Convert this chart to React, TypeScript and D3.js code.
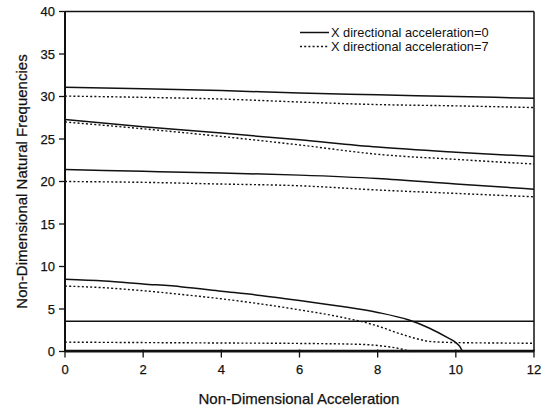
import React from "react";
import * as d3 from "d3";

// ---- data ----
const accel = [0, 2, 4, 6, 8, 10, 12];
const solidMode5 = [31.1, 30.9, 30.7, 30.4, 30.2, 30.0, 29.8];
const dottedMode5 = [30.05, 29.9, 29.7, 29.35, 29.05, 28.9, 28.7];
const solidMode4 = [27.3, 26.45, 25.7, 24.9, 24.05, 23.45, 22.95];
const dottedMode4 = [27.0, 26.2, 25.3, 24.3, 23.2, 22.6, 22.05];
const solidMode3 = [21.4, 21.2, 21.0, 20.75, 20.35, 19.7, 19.1];
const dottedMode3 = [20.0, 19.9, 19.7, 19.5, 19.0, 18.6, 18.2];

const solidMode2X = [0, 1, 2, 3, 4, 5, 6, 7, 8, 8.8, 9.3, 9.8, 10.0, 10.1, 10.17];
const solidMode2Y = [8.5, 8.3, 7.95, 7.6, 7.1, 6.6, 6.0, 5.35, 4.6, 3.7, 2.8, 1.6, 1.05, 0.6, 0];
const solidFlatX = [0, 12];
const solidFlatY = [3.55, 3.55];
const solidBottomX = [0, 12];
const solidBottomY = [0.12, 0.12];

const dottedMode2X = [0, 1, 2, 3, 4, 5, 6, 7, 8, 8.5, 9.0, 9.3, 9.6, 10, 11, 12];
const dottedMode2Y = [7.7, 7.5, 7.15, 6.7, 6.2, 5.6, 4.9, 4.1, 3.0, 2.2, 1.5, 1.2, 1.1, 1.05, 1.0, 0.97];
const dottedMode1X = [0, 2, 4, 6, 7.5, 8.2, 8.6, 8.85];
const dottedMode1Y = [1.1, 1.05, 1.0, 0.95, 0.85, 0.6, 0.3, 0];

const xTicks = [0, 2, 4, 6, 8, 10, 12];
const yTicks = [0, 5, 10, 15, 20, 25, 30, 35, 40];
const legendLabels = ["X directional acceleration=0", "X directional acceleration=7"];
const xTitle = "Non-Dimensional Acceleration";
const yTitle = "Non-Dimensional Natural Frequencies";

export default function App() {
  const W = 546, H = 408;
  const left = 65, right = 534, top = 11.5, bottom = 351.5;
  const x = d3.scaleLinear().domain([0, 12]).range([left, right]);
  const y = d3.scaleLinear().domain([0, 40]).range([bottom, top]);
  const line = (xs: number[], ys: number[]) =>
    d3.line<number>().x((_, i) => x(xs[i])).y((_, i) => y(ys[i])).curve(d3.curveMonotoneX)(ys) || "";

  const solid = [
    line(accel, solidMode5),
    line(accel, solidMode4),
    line(accel, solidMode3),
    line(solidMode2X, solidMode2Y),
    line(solidFlatX, solidFlatY),
    line(solidBottomX, solidBottomY),
  ];
  const dotted = [
    line(accel, dottedMode5),
    line(accel, dottedMode4),
    line(accel, dottedMode3),
    line(dottedMode2X, dottedMode2Y),
    line(dottedMode1X, dottedMode1Y),
  ];
  const font = "'Liberation Sans', Arial, sans-serif";
  const dash = "2 2.2";
  const ink = "#111";
  const textStroke = { stroke: ink, strokeWidth: 0.25 };

  return (
    <svg width={W} height={H} style={{ position: "absolute", left: 0, top: 0, background: "#fff" }} fontFamily={font}>
      <rect x={0} y={0} width={W} height={H} fill="#fff" />
      {solid.map((d, i) => (
        <path key={"s" + i} d={d} fill="none" stroke={ink} strokeWidth={1.5} />
      ))}
      {dotted.map((d, i) => (
        <path key={"d" + i} d={d} fill="none" stroke={ink} strokeWidth={1.4} strokeDasharray={dash} />
      ))}
      {/* frame */}
      <line x1={left} x2={right} y1={top} y2={top} stroke={ink} strokeWidth={1.5} />
      <line x1={right} x2={right} y1={top} y2={bottom} stroke={ink} strokeWidth={1.5} />
      <line x1={left} x2={left} y1={top} y2={bottom} stroke={ink} strokeWidth={2} />
      <line x1={left} x2={right} y1={bottom} y2={bottom} stroke={ink} strokeWidth={1.8} />
      {/* y ticks */}
      {yTicks.map((t) => (
        <g key={"yt" + t}>
          <line x1={left - 6} x2={left} y1={y(t)} y2={y(t)} stroke={ink} strokeWidth={1.3} />
          <text x={left - 10} y={y(t)} dy="0.35em" textAnchor="end" fontSize={13} fill={ink} {...textStroke}>{t}</text>
        </g>
      ))}
      {/* x ticks */}
      {xTicks.map((t) => (
        <g key={"xt" + t}>
          <line x1={x(t)} x2={x(t)} y1={bottom - 2} y2={bottom + 6} stroke={ink} strokeWidth={1.3} />
          <text x={x(t)} y={bottom + 22} textAnchor="middle" fontSize={13} fill={ink} {...textStroke}>{t}</text>
        </g>
      ))}
      <text x={299} y={408} dy="-0.3em" textAnchor="middle" fontSize={15} fill={ink} {...textStroke}>{xTitle}</text>
      <text transform={`translate(27,${(top + bottom) / 2}) rotate(-90)`} textAnchor="middle" fontSize={15} fill={ink} {...textStroke}>{yTitle}</text>
      {/* legend */}
      <line x1={300} x2={329} y1={32.5} y2={32.5} stroke={ink} strokeWidth={1.5} />
      <text x={331} y={32.5} dy="0.35em" fontSize={12.8} fill={ink}>{legendLabels[0]}</text>
      <line x1={300} x2={329} y1={46.5} y2={46.5} stroke={ink} strokeWidth={1.4} strokeDasharray={dash} />
      <text x={331} y={46.5} dy="0.35em" fontSize={12.8} fill={ink}>{legendLabels[1]}</text>
    </svg>
  );
}
